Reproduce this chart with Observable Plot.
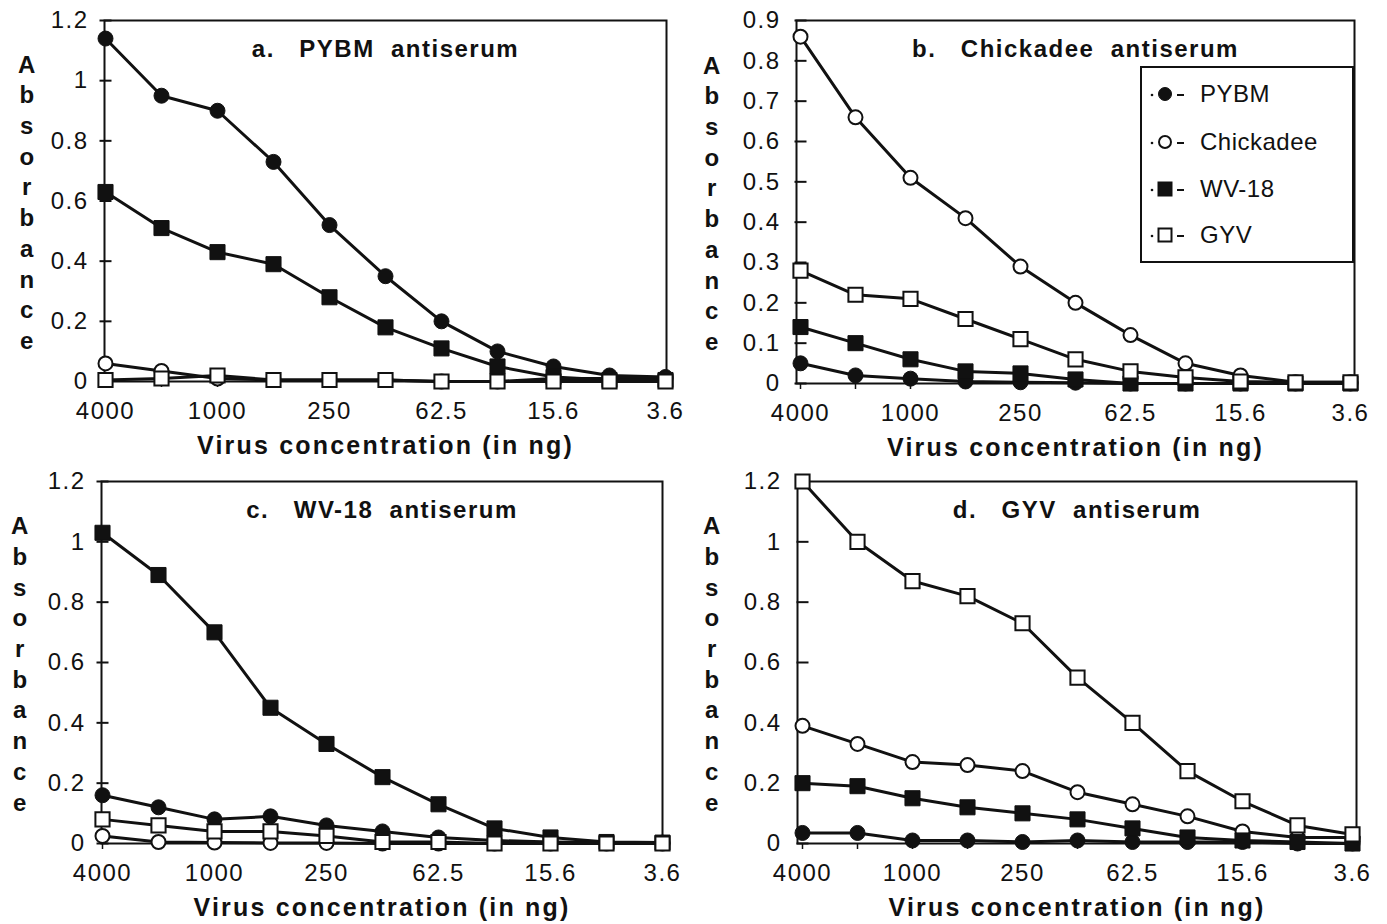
<!DOCTYPE html>
<html><head><meta charset="utf-8">
<script src="https://cdn.jsdelivr.net/npm/d3@7"></script>
<script src="https://cdn.jsdelivr.net/npm/@observablehq/plot@0.6"></script>
<style>
body{margin:0;background:#fff;font-family:"Liberation Sans",Arial,Helvetica,sans-serif;}
#wrap{position:relative;width:1387px;height:924px;overflow:hidden;background:#fff;}
.panel{position:absolute;}
.panel svg{overflow:visible;}
.panel svg text{letter-spacing:1.5px;}
.legend{position:absolute;border:2px solid #111;background:#fff;box-sizing:border-box;}
.legend .item{position:absolute;left:6px;display:flex;align-items:center;font-size:24px;letter-spacing:0.5px;color:#111;}
.legend svg{margin-right:10px;}
</style></head><body><div id="wrap"></div>
<script>
// Virus concentrations (ng), two-fold dilution series
const concLabels = ["4000","2000","1000","500","250","125","62.5","31.25","15.6","7.8","3.6"];
const shownX = ["4000","1000","250","62.5","15.6","3.6"];
const seriesNames = ["PYBM","Chickadee","WV-18","GYV"];
const yLabel = "Absorbance";
const xLabel = "Virus concentration (in ng)";

// a. PYBM antiserum
const aPYBM      = [1.14, 0.95, 0.90, 0.73, 0.52, 0.35, 0.20, 0.10, 0.05, 0.02, 0.015];
const aChickadee = [0.06, 0.035, 0.01, 0.005, 0.005, 0.005, 0.0, 0.0, 0.01, 0.01, 0.01];
const aWV18      = [0.63, 0.51, 0.43, 0.39, 0.28, 0.18, 0.11, 0.05, 0.015, 0.005, 0.005];
const aGYV       = [0.005, 0.01, 0.02, 0.005, 0.005, 0.005, 0.0, 0.0, 0.0, 0.0, 0.0];
const aTicks     = [0, 0.2, 0.4, 0.6, 0.8, 1, 1.2];

// b. Chickadee antiserum
const bPYBM      = [0.05, 0.02, 0.012, 0.005, 0.003, 0.002, 0.0, 0.0, 0.0, 0.0, 0.0];
const bChickadee = [0.86, 0.66, 0.51, 0.41, 0.29, 0.20, 0.12, 0.05, 0.02, 0.003, 0.003];
const bWV18      = [0.14, 0.10, 0.06, 0.03, 0.025, 0.01, 0.0, 0.0, 0.0, 0.0, 0.0];
const bGYV       = [0.28, 0.22, 0.21, 0.16, 0.11, 0.06, 0.03, 0.015, 0.005, 0.003, 0.003];
const bTicks     = [0, 0.1, 0.2, 0.3, 0.4, 0.5, 0.6, 0.7, 0.8, 0.9];

// c. WV-18 antiserum
const cPYBM      = [0.16, 0.12, 0.08, 0.09, 0.06, 0.04, 0.02, 0.01, 0.005, 0.003, 0.003];
const cChickadee = [0.025, 0.005, 0.003, 0.002, 0.002, 0.0, 0.0, 0.0, 0.0, 0.0, 0.0];
const cWV18      = [1.03, 0.89, 0.70, 0.45, 0.33, 0.22, 0.13, 0.05, 0.02, 0.005, 0.003];
const cGYV       = [0.08, 0.06, 0.04, 0.04, 0.025, 0.005, 0.005, 0.0, 0.0, 0.0, 0.0];
const cTicks     = [0, 0.2, 0.4, 0.6, 0.8, 1, 1.2];

// d. GYV antiserum
const dPYBM      = [0.035, 0.035, 0.01, 0.01, 0.005, 0.01, 0.005, 0.005, 0.005, 0.0, 0.0];
const dChickadee = [0.39, 0.33, 0.27, 0.26, 0.24, 0.17, 0.13, 0.09, 0.04, 0.02, 0.02];
const dWV18      = [0.20, 0.19, 0.15, 0.12, 0.10, 0.08, 0.05, 0.02, 0.01, 0.005, 0.0];
const dGYV       = [1.20, 1.00, 0.87, 0.82, 0.73, 0.55, 0.40, 0.24, 0.14, 0.06, 0.03];
const dTicks     = [0, 0.2, 0.4, 0.6, 0.8, 1, 1.2];

const INK = "#111";
const hTick = {draw(ctx, size){ const r = Math.sqrt(size / Math.PI); ctx.moveTo(-r, 0); ctx.lineTo(r, 0); }};
const markerStyle = {
  "PYBM":      {symbol: "circle", r: 7.5, fill: INK,    stroke: INK, strokeWidth: 1},
  "Chickadee": {symbol: "circle", r: 7,   fill: "#fff", stroke: INK, strokeWidth: 2},
  "WV-18":     {symbol: "square", r: 8.5, fill: INK,    stroke: INK, strokeWidth: 1},
  "GYV":       {symbol: "square", r: 8,   fill: "#fff", stroke: INK, strokeWidth: 2}
};

function panel(cfg) {
  const data = [];
  seriesNames.forEach((name, si) => cfg.series[si].forEach((v, i) => data.push({series: name, conc: concLabels[i], value: v})));
  const chart = Plot.plot({
    width: cfg.width, height: cfg.height,
    marginLeft: cfg.ml, marginRight: cfg.mr, marginTop: cfg.mt, marginBottom: cfg.mb,
    style: {fontFamily: "'Liberation Sans', Arial, Helvetica, sans-serif", fontSize: "24px", color: INK, background: "transparent"},
    x: {type: "point", domain: concLabels, padding: 0},
    y: {domain: [0, cfg.yMax]},
    marks: [
      Plot.frame({stroke: INK, strokeWidth: 2}),
      Plot.axisX({ticks: concLabels, tickSize: 6, tickPadding: 14, strokeWidth: 1.5,
        tickFormat: d => shownX.includes(d) ? d : "", label: null, fontSize: 24}),
      Plot.axisY({ticks: cfg.yTicks, tickSize: 0, tickPadding: 16, tickFormat: d => String(d), label: null, fontSize: 24}),
      Plot.dot(cfg.yTicks, {x: () => concLabels[0], y: d => d, symbol: hTick, r: 6, stroke: INK, strokeWidth: 2, fill: "none"}),
      Plot.line(data, {x: "conc", y: "value", z: "series", stroke: INK, strokeWidth: 3}),
      ...seriesNames.map(name => Plot.dot(data.filter(d => d.series === name), {x: "conc", y: "value", ...markerStyle[name]})),
      Plot.text([cfg.title], {text: d => d, frameAnchor: "top", dy: 19, fontWeight: "bold", fontSize: 24}),
      Plot.text([yLabel.split("").join("\n")], {text: d => d, frameAnchor: "left", dx: cfg.ylabDx, textAnchor: "middle",
        fontWeight: "bold", fontSize: 24, lineHeight: 1.28}),
      Plot.text([xLabel], {text: d => d, frameAnchor: "bottom", dy: 72, fontWeight: "bold", fontSize: 25})
    ]
  });
  const div = document.createElement("div");
  div.className = "panel";
  div.style.left = cfg.left + "px";
  div.style.top = cfg.top + "px";
  div.appendChild(chart);
  document.getElementById("wrap").appendChild(div);
  d3.select(chart).selectAll("text").filter(function() { return this.textContent === xLabel; }).style("letter-spacing", "2.2px");
}

panel({title: "a.\u00a0\u00a0\u00a0PYBM\u00a0\u00a0antiserum", yMax: 1.2, yTicks: aTicks, series: [aPYBM, aChickadee, aWV18, aGYV],
  left: 0, top: 0, width: 693, height: 461, ml: 104, mr: 27, mt: 20, mb: 80, ylabDx: -77});
panel({title: "b.\u00a0\u00a0\u00a0Chickadee\u00a0\u00a0antiserum", yMax: 0.9, yTicks: bTicks, series: [bPYBM, bChickadee, bWV18, bGYV],
  left: 693, top: 0, width: 694, height: 461, ml: 103, mr: 33, mt: 20, mb: 78, ylabDx: -84});
panel({title: "c.\u00a0\u00a0\u00a0WV-18\u00a0\u00a0antiserum", yMax: 1.2, yTicks: cTicks, series: [cPYBM, cChickadee, cWV18, cGYV],
  left: 0, top: 461, width: 693, height: 463, ml: 101, mr: 31, mt: 20, mb: 81, ylabDx: -81});
panel({title: "d.\u00a0\u00a0\u00a0GYV\u00a0\u00a0antiserum", yMax: 1.2, yTicks: dTicks, series: [dPYBM, dChickadee, dWV18, dGYV],
  left: 693, top: 461, width: 694, height: 463, ml: 104, mr: 31, mt: 20, mb: 81, ylabDx: -85});

// Legend (in panel b)
const legend = document.createElement("div");
legend.className = "legend";
Object.assign(legend.style, {left: "1140px", top: "66px", width: "214px", height: "197px"});
const legendY = [26, 74, 121, 167];
seriesNames.forEach((name, i) => {
  const m = markerStyle[name];
  const h = m.symbol === "circle" ? m.r - 1 : m.r - 1.5;
  const item = document.createElement("div");
  item.className = "item";
  item.style.top = (legendY[i] - 14) + "px";
  const shape = m.symbol === "circle"
    ? `<circle cx="17" cy="11" r="${h}" fill="${m.fill}" stroke="${m.stroke}" stroke-width="${m.strokeWidth}"/>`
    : `<rect x="${17 - h}" y="${11 - h}" width="${2 * h}" height="${2 * h}" fill="${m.fill}" stroke="${m.stroke}" stroke-width="${m.strokeWidth}"/>`;
  item.innerHTML = `<svg width="42" height="22"><circle cx="4" cy="12" r="1.3" fill="${INK}"/>${shape}<line x1="29" x2="36" y1="12" y2="12" stroke="${INK}" stroke-width="2"/></svg><span>${name}</span>`;
  legend.appendChild(item);
});
document.getElementById("wrap").appendChild(legend);
</script></body></html>
